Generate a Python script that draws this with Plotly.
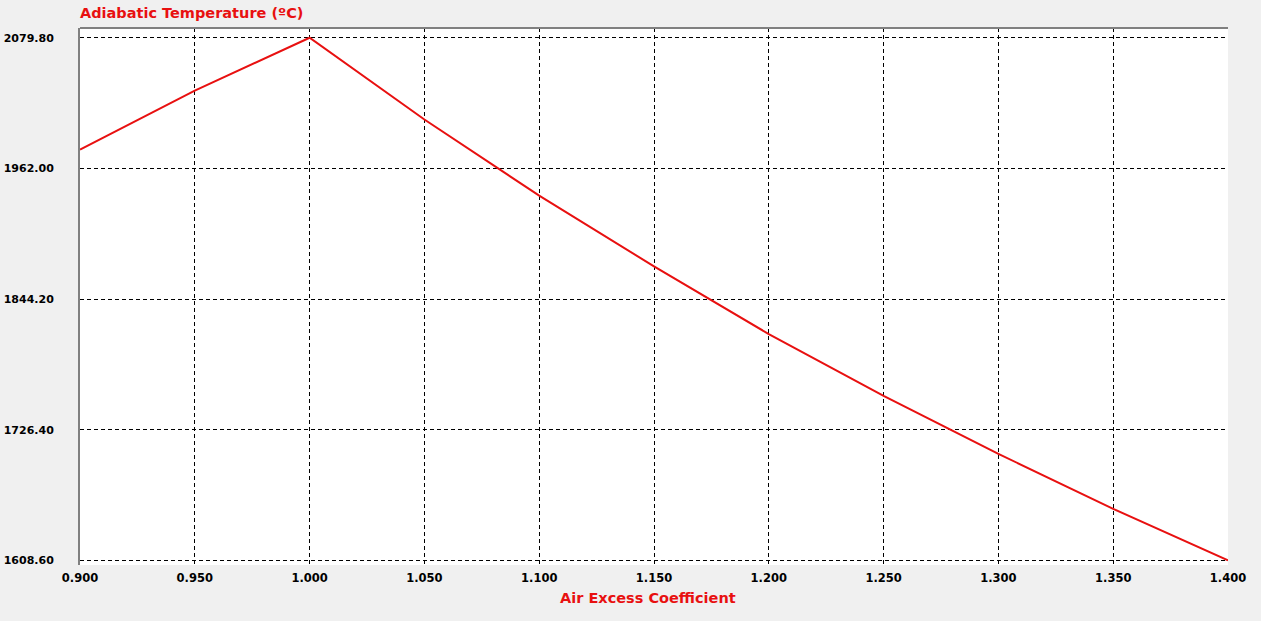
import plotly.graph_objects as go

air_excess = [0.90, 0.95, 1.00, 1.05, 1.10, 1.15, 1.20, 1.25, 1.30, 1.35, 1.40]
adiabatic_temp = [1979.0, 2032.2, 2079.8, 2006.1, 1937.5, 1873.7, 1812.7, 1757.0, 1704.7, 1655.1, 1608.6]

x_ticks = [0.90, 0.95, 1.00, 1.05, 1.10, 1.15, 1.20, 1.25, 1.30, 1.35, 1.40]
y_ticks = [1608.6, 1726.4, 1844.2, 1962.0, 2079.8]

RED = "#e81010"
FONT = "DejaVu Sans"

fig = go.Figure()
fig.add_trace(go.Scatter(x=air_excess, y=adiabatic_temp, mode="lines",
                         line=dict(color=RED, width=2), showlegend=False,
                         hoverinfo="x+y"))

fig.update_layout(
    width=1261, height=621,
    margin=dict(l=80, r=33, t=28, b=56),
    paper_bgcolor="#f0f0f0", plot_bgcolor="white",
    font=dict(family=FONT, size=11, color="black"),
    title=dict(text="<b>Adiabatic Temperature (ºC)</b>", x=80/1261, xanchor="left",
               y=1-13/621, yanchor="middle",
               font=dict(family=FONT, size=14.5, color=RED)),
    xaxis=dict(range=[0.9, 1.4], tickvals=x_ticks, tickformat=".3f",
               showgrid=True, gridcolor="black", griddash="4px,3px", gridwidth=1,
               zeroline=False, showline=False, ticks="", ticklabelstandoff=4,
               automargin=False,
               tickfont=dict(family=FONT, size=11.5, color="black", weight="bold")),
    yaxis=dict(range=[1604.5, 2088.6], tickvals=y_ticks, tickformat=".2f",
               showgrid=True, gridcolor="black", griddash="4px,3px", gridwidth=1,
               zeroline=False, showline=True, linecolor="#808080", linewidth=2,
               ticks="", ticklabelstandoff=22, automargin=False,
               tickfont=dict(family=FONT, size=11, color="black", weight="bold")),
    shapes=[dict(type="line", xref="paper", yref="paper", x0=0, x1=1, y0=1, y1=1,
                 line=dict(color="#808080", width=2))],
    annotations=[dict(text="<b>Air Excess Coefficient</b>", xref="paper", yref="paper",
                      x=(648 - 80) / 1148, y=-(598 - 565) / 537, xanchor="center",
                      yanchor="middle", showarrow=False,
                      font=dict(family=FONT, size=14.5, color=RED))],
)

fig.write_html("out.html", config={"displayModeBar": False},
               post_script="document.body.style.margin='0';document.body.style.background='#f0f0f0';")
